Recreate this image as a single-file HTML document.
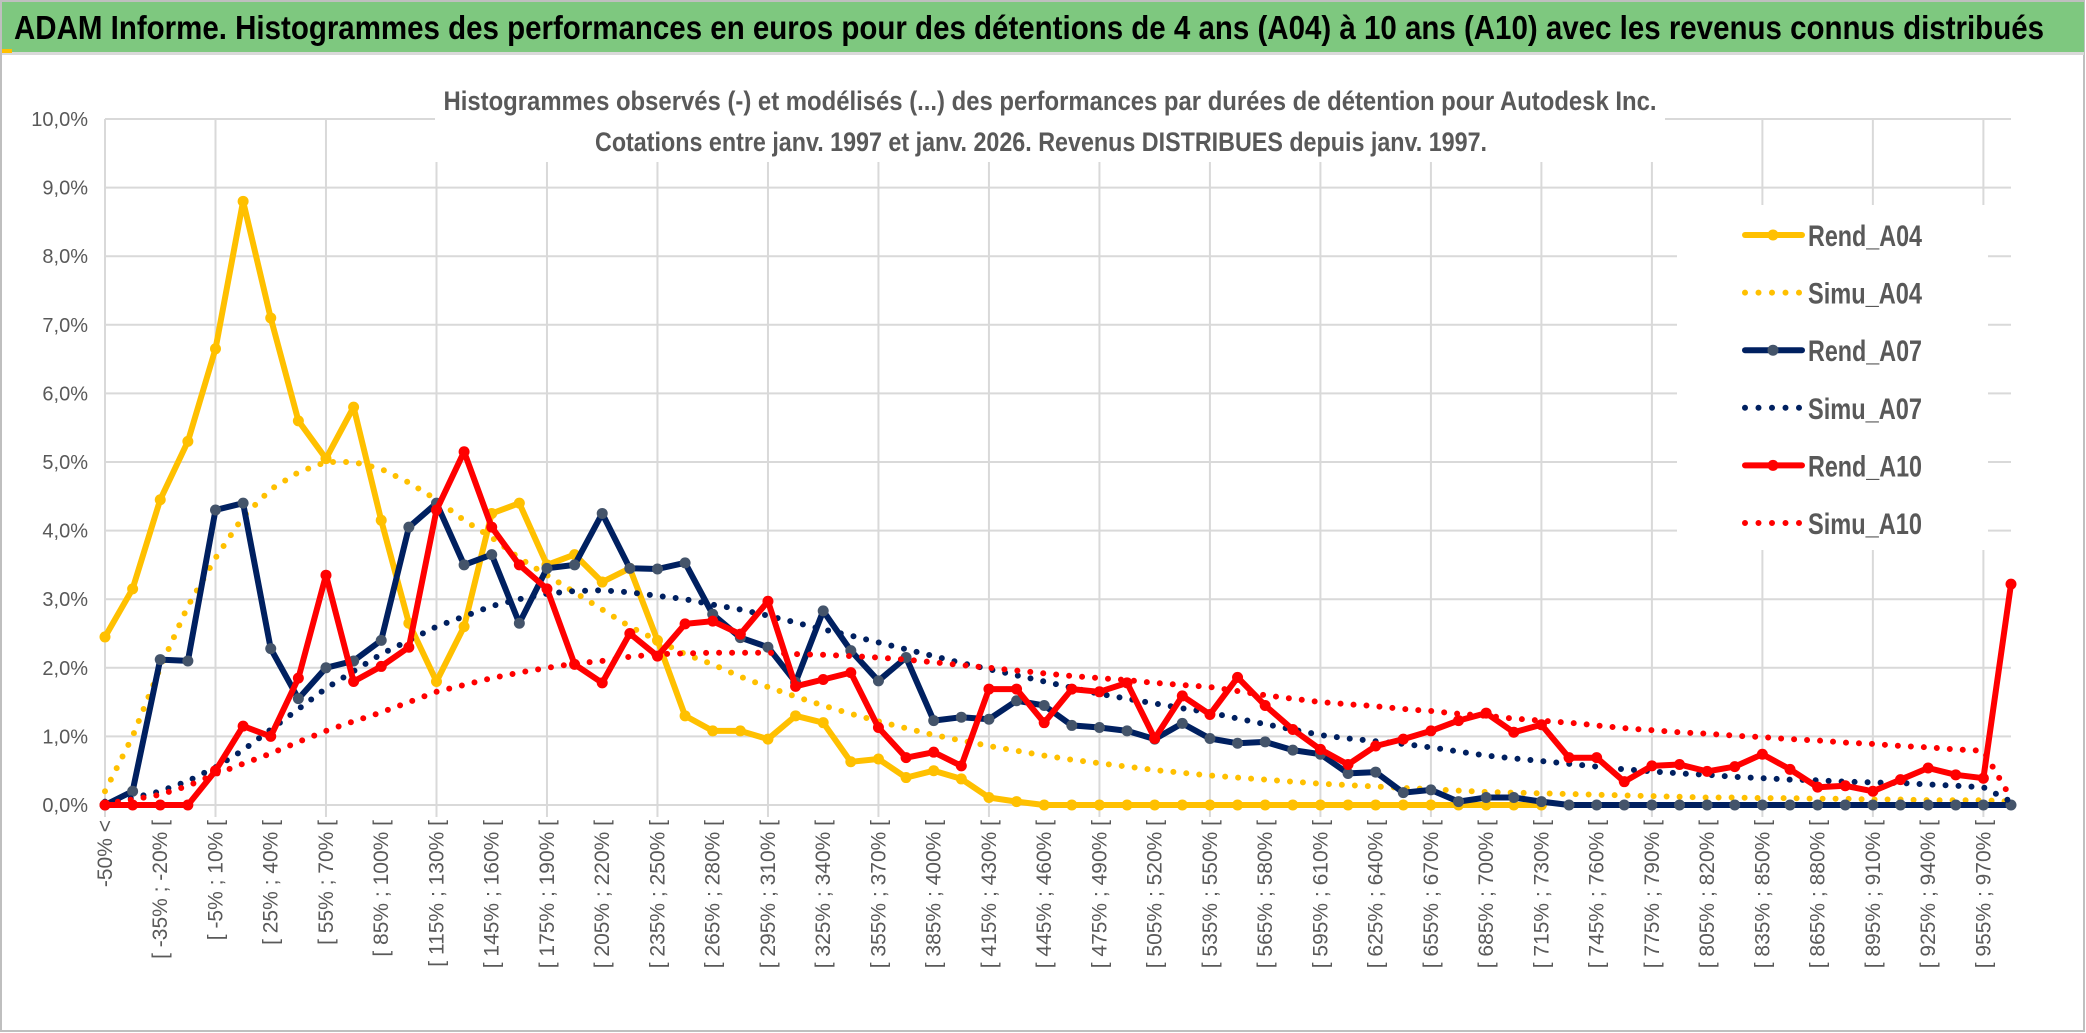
<!DOCTYPE html>
<html><head><meta charset="utf-8"><style>
html,body{margin:0;padding:0;background:#fff;}
svg{display:block;font-family:"Liberation Sans",sans-serif;}
</style></head><body>
<svg id="chart" width="2086" height="1033" viewBox="0 0 2086 1033" xmlns="http://www.w3.org/2000/svg">
<rect x="1" y="1" width="2083" height="1030" fill="#fff" stroke="#bfbfbf" stroke-width="2"/>
<rect x="2" y="2" width="2082" height="50" fill="#7ec87f"/>
<rect x="2" y="52" width="2082" height="3" fill="#d9d9d9"/>
<rect x="2" y="49" width="10" height="4" fill="#ffc000"/>
<text x="14" y="39" font-size="33" font-weight="bold" fill="#000" textLength="2030" lengthAdjust="spacingAndGlyphs">ADAM Informe. Histogrammes des performances en euros pour des détentions de 4 ans (A04) à 10 ans (A10) avec les revenus connus distribués</text>
<g id="grid"></g>
<rect x="435" y="80" width="1230" height="82" fill="#fff"/>
<text x="1050" y="110" font-size="27" font-weight="bold" fill="#595959" text-anchor="middle" textLength="1213" lengthAdjust="spacingAndGlyphs">Histogrammes observés (-) et modélisés (...) des performances par durées de détention pour Autodesk Inc.</text>
<text x="1041" y="151" font-size="27" font-weight="bold" fill="#595959" text-anchor="middle" textLength="892" lengthAdjust="spacingAndGlyphs">Cotations entre janv. 1997 et janv. 2026. Revenus DISTRIBUES depuis janv. 1997.</text>
<g id="axes"></g>
<g id="series"></g>
<g id="legend"></g>
</svg>
<script>
const yTicks = [0,1,2,3,4,5,6,7,8,9,10];
const yTickLabels = ["0,0%","1,0%","2,0%","3,0%","4,0%","5,0%","6,0%","7,0%","8,0%","9,0%","10,0%"];
const categories = ["-50% <"];
for (let k = 1; k < 70; k++) { categories.push("[ " + (-50 + 15*(k-1)) + "% ; " + (-35 + 15*(k-1)) + "% ["); }
const rendA04 = [2.45,3.15,4.45,5.3,6.65,8.8,7.1,5.6,5.05,5.8,4.15,2.65,1.8,2.6,4.25,4.4,3.5,3.65,3.25,3.45,2.4,1.3,1.08,1.08,0.96,1.3,1.2,0.63,0.67,0.4,0.5,0.38,0.11,0.05,0,0,0,0,0,0,0,0,0,0,0,0,0,0,0,0,0,0,0,null,null,null,null,null,null,null,null,null,null,null,null,null,null,null,null,null];
const simuA04 = [0.2,1.0,2.0,2.9,3.6,4.2,4.6,4.85,5.0,5.0,4.9,4.7,4.45,4.15,3.9,3.6,3.35,3.1,2.85,2.6,2.4,2.2,2.05,1.87,1.72,1.58,1.45,1.33,1.22,1.12,1.02,0.94,0.86,0.79,0.72,0.66,0.61,0.56,0.51,0.47,0.43,0.4,0.37,0.34,0.31,0.29,0.27,0.25,0.23,0.21,0.19,0.18,0.17,0.16,0.15,0.14,0.13,0.12,0.11,0.11,0.1,0.1,0.09,0.09,0.08,0.08,0.07,0.07,0.07,0.05];
const rendA07 = [0,0.2,2.12,2.1,4.3,4.4,2.28,1.55,2.0,2.1,2.4,4.05,4.4,3.5,3.65,2.65,3.45,3.5,4.25,3.45,3.44,3.53,2.78,2.44,2.3,1.79,2.83,2.25,1.81,2.15,1.23,1.28,1.25,1.52,1.45,1.16,1.13,1.08,0.96,1.19,0.97,0.9,0.92,0.8,0.74,0.46,0.48,0.18,0.22,0.05,0.11,0.11,0.05,0,0,0,0,0,0,0,0,0,0,0,0,0,0,0,0,0];
const simuA07 = [0.05,0.1,0.2,0.35,0.55,0.8,1.1,1.4,1.7,1.95,2.2,2.4,2.6,2.75,2.9,3.0,3.08,3.12,3.13,3.1,3.05,3.0,2.92,2.85,2.76,2.66,2.56,2.47,2.37,2.27,2.17,2.07,1.98,1.89,1.8,1.71,1.62,1.55,1.48,1.41,1.35,1.26,1.18,1.1,1.02,0.97,0.93,0.89,0.84,0.78,0.72,0.68,0.64,0.6,0.56,0.52,0.49,0.46,0.44,0.41,0.39,0.37,0.36,0.34,0.33,0.32,0.3,0.28,0.26,0.05];
const rendA10 = [0,0,0,0,0.5,1.15,1.0,1.85,3.35,1.8,2.02,2.3,4.3,5.15,4.05,3.5,3.15,2.05,1.78,2.5,2.17,2.64,2.68,2.49,2.97,1.73,1.83,1.93,1.13,0.69,0.77,0.57,1.69,1.69,1.2,1.69,1.65,1.78,0.97,1.59,1.32,1.86,1.45,1.1,0.81,0.59,0.86,0.96,1.08,1.23,1.34,1.06,1.17,0.69,0.69,0.34,0.57,0.59,0.49,0.56,0.74,0.52,0.26,0.28,0.2,0.37,0.54,0.44,0.39,3.22];
const simuA10 = [0.02,0.08,0.15,0.28,0.45,0.6,0.75,0.92,1.08,1.22,1.35,1.5,1.65,1.75,1.85,1.93,2.0,2.06,2.1,2.16,2.2,2.21,2.22,2.22,2.22,2.2,2.19,2.17,2.15,2.12,2.08,2.04,2.0,1.96,1.92,1.88,1.85,1.82,1.78,1.75,1.72,1.66,1.6,1.55,1.5,1.47,1.44,1.4,1.37,1.33,1.3,1.26,1.23,1.2,1.16,1.12,1.09,1.06,1.04,1.01,0.99,0.96,0.94,0.91,0.89,0.86,0.84,0.81,0.79,0.1];
const seriesNames = ["Rend_A04","Simu_A04","Rend_A07","Simu_A07","Rend_A10","Simu_A10"];

const NS = "http://www.w3.org/2000/svg";
const X0 = 105, X1 = 2011, Y0 = 805, Y1 = 119, YMAX = 10;
const step = (X1 - X0) / (categories.length - 1);
function xScale(i){ return X0 + i * step; }
function yScale(v){ return Y0 - (v / YMAX) * (Y0 - Y1); }
function mk(tag, attrs, parent){ const e = document.createElementNS(NS, tag); for (const k in attrs) e.setAttribute(k, attrs[k]); parent.appendChild(e); return e; }

const grid = document.getElementById('grid');
const axes = document.getElementById('axes');
const series = document.getElementById('series');
const legend = document.getElementById('legend');

yTicks.forEach((t, k) => {
  const ln = mk('line', {x1: X0, x2: X1, y1: yScale(t), y2: yScale(t), stroke: '#d9d9d9', 'stroke-width': 2}, grid);
  
  
  const tx = mk('text', {x: 88, y: yScale(t) + 7, 'font-size': 20, fill: '#595959', 'text-anchor': 'end'}, axes);
  tx.textContent = yTickLabels[k];
  
  
});
for (let i = 0; i < categories.length; i += 4) {
  const ln = mk('line', {x1: xScale(i), x2: xScale(i), y1: Y1, y2: Y0 + 12, stroke: '#d9d9d9', 'stroke-width': 2}, grid);
  
  
}
categories.forEach((c, i) => {
  if (i % 2 !== 0) return;
  const x = xScale(i) + 7, y = 820;
  const tx = mk('text', {x: x, y: y, 'font-size': 21, fill: '#595959', 'text-anchor': 'end', transform: 'rotate(-90 ' + x + ' ' + y + ')'}, axes);
  tx.textContent = c;
  
  
});

function pathFor(vals){
  let d = '', pen = false;
  vals.forEach((v, i) => {
    if (v === null) { pen = false; return; }
    d += (pen ? 'L' : 'M') + xScale(i).toFixed(1) + ' ' + yScale(v).toFixed(1) + ' ';
    pen = true;
  });
  return d;
}
function solid(vals, color, markerFill, name){
  const p = mk('path', {d: pathFor(vals), fill: 'none', stroke: color, 'stroke-width': 6, 'stroke-linejoin': 'round', 'stroke-linecap': 'round'}, series);
  
  
  vals.forEach((v, i) => {
    if (v === null) return;
    const c = mk('circle', {cx: xScale(i), cy: yScale(v), r: 5.5, fill: markerFill}, series);
    
    
  });
}
function dotted(vals, color, name){
  const p = mk('path', {d: pathFor(vals), fill: 'none', stroke: color, 'stroke-width': 6, 'stroke-linecap': 'round', 'stroke-dasharray': '0 13'}, series);
  
  
}
solid(rendA04, '#ffc000', '#ffc000', 'rend-a04');
dotted(simuA04, '#ffc000', 'simu-a04');
solid(rendA07, '#002060', '#44546a', 'rend-a07');
dotted(simuA07, '#002060', 'simu-a07');
solid(rendA10, '#ff0000', '#ff0000', 'rend-a10');
dotted(simuA10, '#ff0000', 'simu-a10');

const lbg = mk('rect', {x: 1677, y: 205, width: 311, height: 345, fill: '#fff'}, legend);


const lc = ['#ffc000','#ffc000','#002060','#002060','#ff0000','#ff0000'];
const lm = ['#ffc000',null,'#44546a',null,'#ff0000',null];
seriesNames.forEach((n, k) => {
  const y = 235 + k * 57.6;
  const g = mk('g', {}, legend);
  
  
  if (lm[k]) {
    mk('line', {x1: 1745, x2: 1802, y1: y, y2: y, stroke: lc[k], 'stroke-width': 6, 'stroke-linecap': 'round'}, g);
    mk('circle', {cx: 1773, cy: y, r: 5.5, fill: lm[k]}, g);
  } else {
    mk('line', {x1: 1745, x2: 1800, y1: y, y2: y, stroke: lc[k], 'stroke-width': 6, 'stroke-linecap': 'round', 'stroke-dasharray': '0 13.5'}, g);
  }
  const t = mk('text', {x: 1808, y: y + 11, 'font-size': 30, 'font-weight': 'bold', fill: '#595959', textLength: 114, lengthAdjust: 'spacingAndGlyphs'}, g);
  t.textContent = n;
});
</script>
</body></html>
